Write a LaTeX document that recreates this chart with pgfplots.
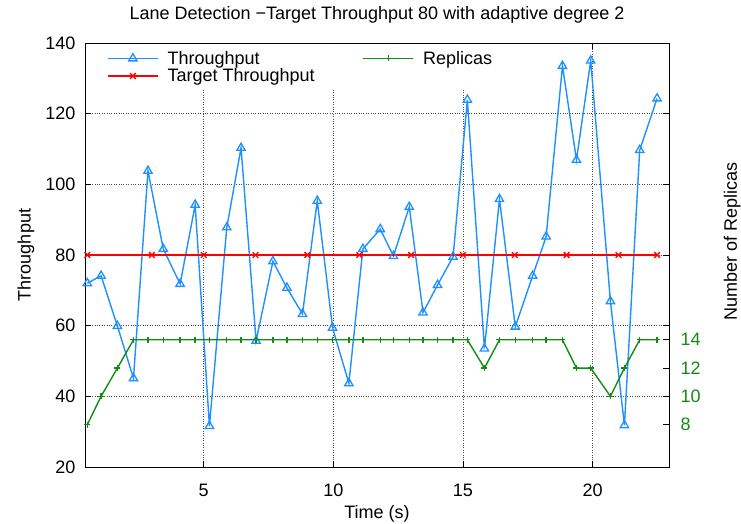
\documentclass[border=0pt]{standalone}
\usepackage{fontspec}
\setmainfont{Liberation Sans}
\usepackage{pgfplots}
\pgfplotsset{compat=1.18}

\definecolor{tpblue}{RGB}{30,144,255}
\definecolor{repgreen}{RGB}{20,140,20}
\newcommand\ff{\fontsize{18}{21}\selectfont}

\begin{document}
\begin{tikzpicture}
\useasboundingbox (0,0) rectangle (741pt,524pt);
\pgfplotsset{
  every axis/.append style={
    scale only axis, width=584pt, height=424pt,
    at={(85pt,57pt)}, anchor=south west,
    xmin=0.42, xmax=22.95,
    tick label style={font=\ff},
    label style={font=\ff},
    /pgf/number format/assume math mode=true,
    tick align=inside, major tick length=6pt,
    tick style={black, line width=0.6pt},
    axis line style={line width=0.9pt},
  }
}
\begin{axis}[
  ymin=20, ymax=140,
  ytick={20,40,...,140},
  xtick={5,10,15,20},
  grid=major,
  grid style={dotted, black!70, line width=0.6pt},
  title={Lane Detection −Target Throughput 80 with adaptive degree 2},
  title style={font=\ff, at={(0.5,1)}, anchor=base, yshift=17pt},
  xlabel={Time (s)},
  xlabel style={at={(axis description cs:0.5,0)}, anchor=base, yshift=-51pt},
  ylabel={Throughput},
  ylabel style={at={(axis description cs:-0.0933,0.5)}, anchor=base},
  xticklabel style={anchor=base, yshift=-29pt},
  yticklabel style={anchor=east, xshift=-6pt},
  legend columns=2,
  legend cell align=left,
  legend style={font=\ff, draw=none, fill=white,
    at={(axis description cs:0,1)}, anchor=north west,
    xshift=2pt, yshift=-1pt, inner xsep=20pt, inner ysep=5.5pt,
    nodes={inner sep=1.5pt},
    /tikz/every odd column/.append style={column sep=7.5pt},
    /tikz/every even column/.append style={column sep=46.5pt}},
  legend image code/.code={\draw[mark repeat=2,mark phase=2,#1] plot coordinates {(0pt,0pt) (25pt,0pt) (50pt,0pt)};},
]
\addplot[tpblue, line width=1.4pt, mark=triangle, mark size=4.8pt, mark options={solid, line width=1.3pt}] coordinates {
(0.51,72.0) (1.04,74.1) (1.67,59.9) (2.29,45.1) (2.85,103.8) (3.44,81.7)
(4.09,71.8) (4.67,94.2) (5.22,31.6) (5.89,87.8) (6.44,110.3) (7.02,55.7)
(7.67,78.2) (8.21,70.7) (8.81,63.3) (9.38,95.3) (9.97,59.4) (10.60,43.7)
(11.14,81.7) (11.81,87.3) (12.32,79.7) (12.93,93.6) (13.46,63.7) (14.02,71.5)
(14.62,79.5) (15.17,123.9) (15.83,53.5) (16.41,95.8) (17.02,59.7) (17.69,74.1)
(18.21,85.2) (18.84,133.5) (19.38,106.9) (19.93,135.0) (20.69,66.9) (21.23,31.8)
(21.82,109.7) (22.49,124.3)};
\addlegendentry{Throughput}
\addlegendimage{draw=repgreen, color=repgreen, line width=1.4pt, mark=+, mark size=3pt, mark options={solid, draw=repgreen}}
\addlegendentry{Replicas}
\addplot[red, line width=1.1pt, mark=x, mark size=4pt, mark options={line width=1.3pt}] coordinates {
(0.51,80) (3,80) (5,80) (7,80) (9,80) (11,80) (13,80) (15,80) (17,80) (19,80) (21,80) (22.49,80)};
\addlegendentry{Target Throughput}
\end{axis}
\begin{axis}[
  axis y line*=right, axis x line=none,
  ymin=5, ymax=35,
  ytick={8,10,12,14},
  yticklabel style={anchor=west, xshift=8pt, text=repgreen},
  ylabel={Number of Replicas},
  ylabel style={at={(axis description cs:1.1164,0.532)}, anchor=base},
]
\addplot[repgreen, line width=1.4pt, mark=+, mark size=3pt] coordinates {
(0.51,8) (1.04,10) (1.67,12) (2.29,14) (2.85,14) (3.44,14)
(4.09,14) (4.67,14) (5.22,14) (5.89,14) (6.44,14) (7.02,14)
(7.67,14) (8.21,14) (8.81,14) (9.38,14) (9.97,14) (10.60,14)
(11.14,14) (11.81,14) (12.32,14) (12.93,14) (13.46,14) (14.02,14)
(14.62,14) (15.17,14) (15.83,12) (16.41,14) (17.02,14) (17.69,14)
(18.21,14) (18.84,14) (19.38,12) (19.93,12) (20.69,10) (21.23,12)
(21.82,14) (22.49,14)};
\end{axis}
\end{tikzpicture}
\end{document}
